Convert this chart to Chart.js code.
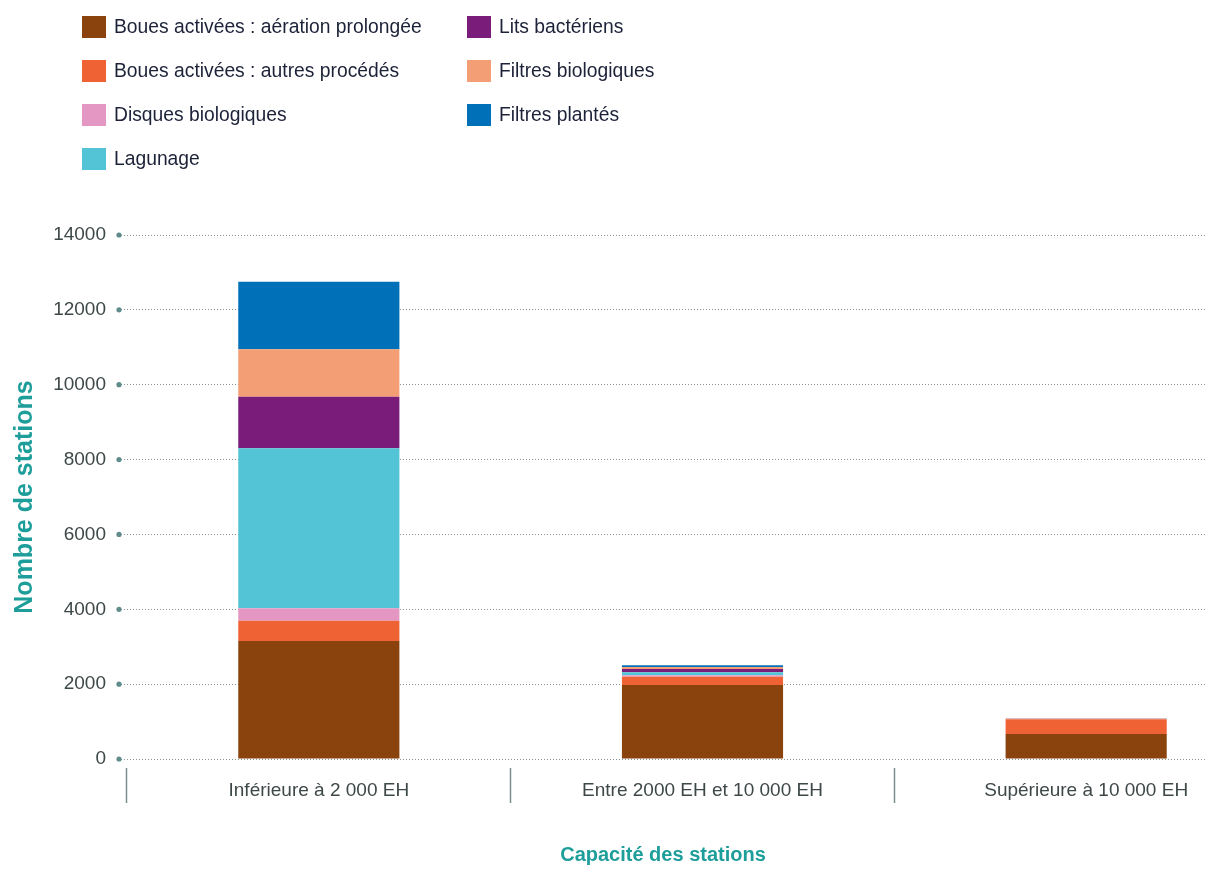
<!DOCTYPE html>
<html>
<head>
<meta charset="utf-8">
<script src="https://cdn.jsdelivr.net/npm/chart.js@4.4.0/dist/chart.umd.min.js"></script>
<style>
  body { margin: 0; overflow: hidden; background: #fff; font-family: 'Liberation Sans', Arial, sans-serif; }
  #wrap { position: absolute; left: 0; top: 0; width: 1290px; height: 870px; }
  #legend { position: absolute; left: 82px; top: 16px; display: grid; grid-auto-flow: column;
            grid-template-rows: repeat(4, 44px); grid-template-columns: 385px 300px; }
  .item { display: flex; align-items: flex-start; font-size: 19.3px; color: #1c2238; }
  .item span.box { width: 24px; height: 22px; margin-right: 8px; flex: none; }
  .item span.lbl { line-height: 22px; }
  #xtitle { position: absolute; left: 0; width: 1326px; top: 843px; text-align: center;
            font-weight: bold; font-size: 20px; color: #1e9e9a; }
</style>
</head>
<body>
<div id="wrap"><canvas id="chart"></canvas></div>
<div id="legend"></div>
<div id="xtitle">Capacité des stations</div>
<script>
const categories = ['Inférieure à 2 000 EH', 'Entre 2000 EH et 10 000 EH', 'Supérieure à 10 000 EH'];

const seriesNames = [
  'Boues activées : aération prolongée',
  'Boues activées : autres procédés',
  'Disques biologiques',
  'Lagunage',
  'Lits bactériens',
  'Filtres biologiques',
  'Filtres plantés'
];
const seriesColors = ['#8a430c', '#ee6233', '#e497c2', '#53c3d6', '#7a1c7a', '#f49e76', '#0071b9'];

// nombre de stations par capacité
const aerationProlongee = [3150, 1980, 670];
const autresProcedes    = [545, 215, 390];
const disques           = [330, 45, 15];
const lagunage          = [4275, 75, 5];
const litsBacteriens    = [1380, 90, 5];
const filtresBio        = [1265, 55, 10];
const filtresPlantes    = [1805, 45, 0];

const yTicks = [0, 2000, 4000, 6000, 8000, 10000, 12000, 14000];

const values = [aerationProlongee, autresProcedes, disques, lagunage, litsBacteriens, filtresBio, filtresPlantes];

const font = "'Liberation Sans', Arial, sans-serif";

// legende en html
const legend = document.getElementById('legend');
seriesNames.forEach((name, i) => {
  const it = document.createElement('div');
  it.className = 'item';
  it.innerHTML = '<span class="box" style="background:' + seriesColors[i] + '"></span><span class="lbl">' + name + '</span>';
  legend.appendChild(it);
});

const tickDots = {
  id: 'tickDots',
  afterDraw(chart) {
    const y = chart.scales.y;
    const ctx = chart.ctx;
    ctx.save();
    ctx.fillStyle = '#5f8c8b';
    y.ticks.forEach(t => {
      ctx.beginPath();
      ctx.arc(chart.chartArea.left - 8, y.getPixelForValue(t.value), 2.6, 0, Math.PI * 2);
      ctx.fill();
    });
    ctx.restore();
  }
};

new Chart(document.getElementById('chart').getContext('2d'), {
  type: 'bar',
  data: {
    labels: categories,
    datasets: seriesNames.map((name, i) => ({
      label: name,
      data: values[i],
      backgroundColor: seriesColors[i],
      borderWidth: 0,
      barPercentage: 0.42,
      categoryPercentage: 1
    }))
  },
  options: {
    responsive: true,
    maintainAspectRatio: false,
    animation: false,
    layout: { padding: { top: 235, right: 12, left: 0, bottom: 0 } },
    plugins: { legend: { display: false }, tooltip: { enabled: false } },
    scales: {
      x: {
        stacked: true,
        offset: true,
        grid: {
          offset: true, drawOnChartArea: false, drawTicks: true,
          tickLength: 44, tickWidth: 1.5, tickColor: '#7f8c8c',
          tickBorderDash: [0, 9, 35, 100]
        },
        border: { display: false },
        ticks: { padding: -24, color: '#3e4848', font: { family: font, size: 19 } },
        afterFit: s => { s.height = 111; }
      },
      y: {
        stacked: true,
        min: 0,
        max: 14000,
        afterBuildTicks: s => { s.ticks = yTicks.map(v => ({ value: v })); },
        grid: { color: '#869494', lineWidth: 1, tickLength: 6, tickColor: '#869494', tickBorderDash: [1, 2] },
        border: { display: false, dash: [1, 2] },
        ticks: {
          padding: 15, color: '#3e4848', font: { family: font, size: 19 },
          callback: v => String(v)
        },
        title: {
          display: true, text: 'Nombre de stations', color: '#1e9e9a',
          font: { family: font, size: 25, weight: 'bold' }, padding: { top: 10, bottom: 0 }
        },
        afterFit: s => { s.width = 127; }
      }
    }
  },
  plugins: [tickDots]
});
</script>
</body>
</html>
